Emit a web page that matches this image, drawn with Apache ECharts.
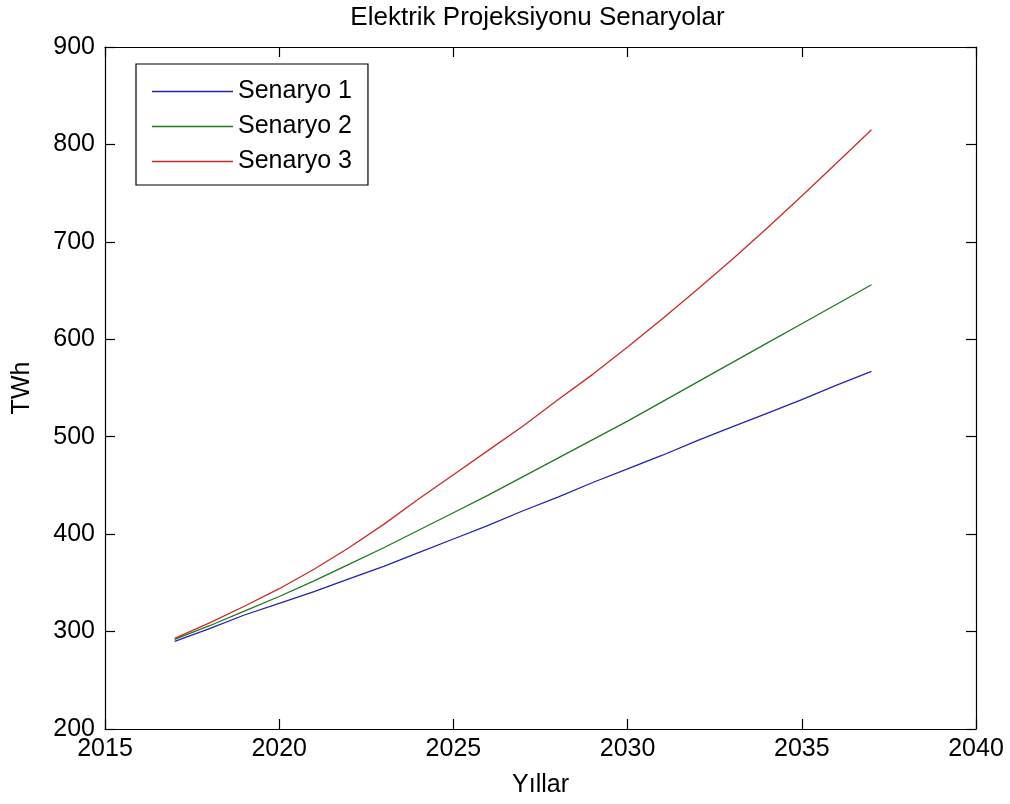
<!DOCTYPE html>
<html>
<head>
<meta charset="utf-8">
<script src="https://cdn.jsdelivr.net/npm/echarts@6/dist/echarts.min.js"></script>
<style>html,body{margin:0;padding:0;background:#fff;}#c{width:1010px;height:804px;}</style>
</head>
<body>
<div id="c"></div>
<script>
const years = [2017,2018,2019,2020,2021,2022,2023,2024,2025,2026,2027,2028,2029,2030,2031,2032,2033,2034,2035,2036,2037];
const senaryo1 = [290,303,317,329,341,354,367,381,395,409,424,438,453,467,481,496,510,524,538,553,567];
const senaryo2 = [292,306,321,336,352,369,386,404,422,440,459,478,497,516,536,556,576,596,616,636,656];
const senaryo3 = [293,309,326,344,364,386,410,436,461,486,511,538,564,592,621,651,682,714,747,781,815];
const seriesNames = ['Senaryo 1','Senaryo 2','Senaryo 3'];
const seriesColors = ['#2323b4','#1f7a1f','#cc2a2a'];
const xTicks = {min:2015, max:2040, interval:5};
const yTicks = {min:200, max:900, interval:100};
const titleText = 'Elektrik Projeksiyonu Senaryolar';
const xName = 'Yıllar';
const yName = 'TWh';

const font = 'Liberation Sans, Arial, sans-serif';
const fs = 25;
const chart = echarts.init(document.getElementById('c'), null, {renderer:'canvas'});
const pair = (arr) => years.map((y,i)=>[y,arr[i]]);
const data = [senaryo1, senaryo2, senaryo3];
const axisCommon = {
  axisLine:{show:true, onZero:false, lineStyle:{color:'#000', width:1.2}},
  axisTick:{show:true, inside:true, length:10, lineStyle:{color:'#000', width:1.2}},
  splitLine:{show:false}
};
const gridL = 105, gridR = 34, gridT = 47, gridB = 75;
chart.setOption({
  animation:false,
  backgroundColor:'#fff',
  graphic:[{type:'text', x:(gridL + (1010-gridR))/2 - 3, y:5,
    style:{text:titleText, fontFamily:font, fontSize:26, fill:'#000', textAlign:'center', textVerticalAlign:'top'}}],
  grid:{left:gridL, right:gridR, top:gridT, bottom:gridB, containLabel:false},
  legend:{
    orient:'vertical', left:136, top:64, data:seriesNames,
    icon:'rect', itemWidth:81, itemHeight:1.5, itemGap:10,
    borderColor:'#000', borderWidth:1.2, padding:[15,16,11,16],
    backgroundColor:'#fff',
    textStyle:{fontFamily:font, fontSize:fs, color:'#000', lineHeight:25}
  },
  xAxis:[
    Object.assign({type:'value', position:'bottom', min:xTicks.min, max:xTicks.max, interval:xTicks.interval,
      name:xName, nameLocation:'middle', nameGap:44,
      nameTextStyle:{fontFamily:font, fontSize:fs, color:'#000'},
      axisLabel:{fontFamily:font, fontSize:fs, color:'#000', margin:8, formatter:(v)=>String(v)}}, axisCommon),
    Object.assign({type:'value', position:'top', min:xTicks.min, max:xTicks.max, interval:xTicks.interval,
      axisLabel:{show:false}}, axisCommon)
  ],
  yAxis:[
    Object.assign({type:'value', position:'left', min:yTicks.min, max:yTicks.max, interval:yTicks.interval,
      name:yName, nameLocation:'middle', nameGap:70,
      nameTextStyle:{fontFamily:font, fontSize:fs, color:'#000'},
      axisLabel:{fontFamily:font, fontSize:fs, color:'#000', margin:10}}, axisCommon),
    Object.assign({type:'value', position:'right', min:yTicks.min, max:yTicks.max, interval:yTicks.interval,
      axisLabel:{show:false}}, axisCommon)
  ],
  series: seriesNames.map((n,i)=>({
    name:n, type:'line', data:pair(data[i]), showSymbol:false, symbol:'none',
    xAxisIndex:0, yAxisIndex:0,
    color:seriesColors[i],
    lineStyle:{color:seriesColors[i], width:1.3}
  }))
});
</script>
</body>
</html>
